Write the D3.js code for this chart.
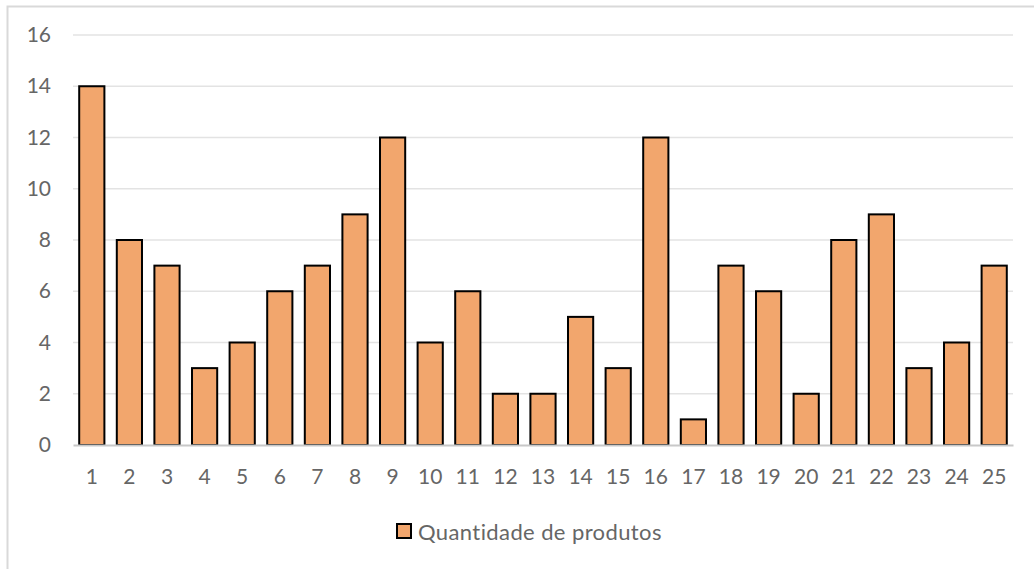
<!DOCTYPE html>
<html>
<head>
<meta charset="utf-8">
<script src="https://cdn.jsdelivr.net/npm/d3@7"></script>
<style>
  html, body { margin: 0; padding: 0; background: #fff; }
  svg { display: block; }
</style>
</head>
<body>
<svg id="chart" width="1034" height="569"></svg>
<script>
// Quantity of products per item number
const categories = ["1","2","3","4","5","6","7","8","9","10","11","12","13","14","15","16","17","18","19","20","21","22","23","24","25"];
const values = [14, 8, 7, 3, 4, 6, 7, 9, 12, 4, 6, 2, 2, 5, 3, 12, 1, 7, 6, 2, 8, 9, 3, 4, 7];
const yTicks = [0, 2, 4, 6, 8, 10, 12, 14, 16];
const seriesName = "Quantidade de produtos";

const svg = d3.select("#chart");
const font = "Lato, 'Open Sans', 'DejaVu Sans', sans-serif";
const textColor = "#666666";
const barFill = "#F2A66D";
const fontSize = 21;

// chart frame
svg.append("rect")
  .attr("x", 7.5).attr("y", 6.5)
  .attr("width", 1040).attr("height", 575)
  .attr("fill", "#fff")
  .attr("stroke", "#d9d9d9").attr("stroke-width", 2);

const plot = { left: 73, right: 1013, top: 35, bottom: 445 };

const x = d3.scaleBand()
  .domain(categories)
  .range([plot.left, plot.right])
  .paddingInner(0.33)
  .paddingOuter(0.165);

const y = d3.scaleLinear()
  .domain([0, 16])
  .range([plot.bottom, plot.top]);

// horizontal gridlines
svg.append("g")
  .selectAll("line")
  .data(yTicks.filter(t => t > 0))
  .join("line")
  .attr("x1", plot.left).attr("x2", plot.right)
  .attr("y1", d => y(d)).attr("y2", d => y(d))
  .attr("stroke", "#e3e3e3").attr("stroke-width", 1.5);

// y axis labels
const yAxis = d3.axisLeft(y).tickValues(yTicks).tickSize(0).tickPadding(0);
const gy = svg.append("g")
  .attr("transform", `translate(${plot.left - 22},0)`)
  .call(yAxis);
gy.select(".domain").remove();
gy.selectAll("text")
  .attr("font-family", font).attr("font-size", fontSize)
  .attr("fill", textColor);

// bars
svg.append("g")
  .selectAll("rect")
  .data(values)
  .join("rect")
  .attr("x", (d, i) => x(categories[i]))
  .attr("y", d => y(d))
  .attr("width", x.bandwidth())
  .attr("height", d => y(0) - y(d))
  .attr("fill", barFill)
  .attr("stroke", "#000")
  .attr("stroke-width", 2);

// x axis
const xAxis = d3.axisBottom(x).tickSize(0).tickPadding(24);
const gx = svg.append("g")
  .attr("transform", `translate(0,${plot.bottom})`)
  .call(xAxis);
gx.select(".domain")
  .attr("stroke", "#c8c8c8").attr("stroke-width", 2);
gx.selectAll("text")
  .attr("font-family", font).attr("font-size", fontSize)
  .attr("fill", textColor);

// legend
const legend = svg.append("g").attr("transform", "translate(397,524)");
legend.append("rect")
  .attr("x", 0).attr("y", 0)
  .attr("width", 14).attr("height", 14)
  .attr("fill", barFill)
  .attr("stroke", "#000").attr("stroke-width", 2);
legend.append("text")
  .attr("x", 21).attr("y", 8)
  .attr("dy", "0.35em")
  .attr("font-family", font).attr("font-size", 22)
  .attr("letter-spacing", 0.4)
  .attr("fill", textColor)
  .text(seriesName);
</script>
</body>
</html>
